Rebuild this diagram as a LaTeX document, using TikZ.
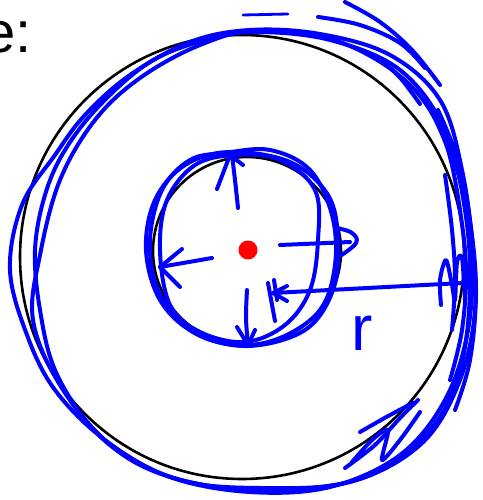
\documentclass[tikz,border=0pt]{standalone}
\usepackage{fontspec}
\setmainfont{Liberation Sans}
\definecolor{ink}{RGB}{0,0,255}
\definecolor{dotred}{RGB}{255,0,0}
\begin{document}
\begin{tikzpicture}[x=1pt,y=-1pt,
  blackline/.style={draw=black, line width=2.6pt},
  scribble/.style={draw=ink, line width=4pt, line cap=round, line join=round},
  thinscribble/.style={draw=ink, line width=2.8pt, line cap=round, line join=round},
  label/.style={inner sep=0pt, font=\fontsize{58pt}{60pt}\selectfont},
  handlabel/.style={inner sep=0pt, text=ink, font=\fontsize{64pt}{66pt}\selectfont}]
\useasboundingbox (0,0) rectangle (482,500);

% title fragment
\node[label, anchor=base east] (title) at (32,53) {e:};

% black circles
\draw[blackline] (242,257) circle[radius=222pt];
\draw[blackline] (247,251) circle[radius=94pt];

% outer blue loops
\draw[scribble] plot[smooth cycle, tension=0.6] coordinates {(250,30) (320,34) (390,55) (440,100) (462,170) (472,250) (468,330) (445,400) (400,455) (330,487) (250,492) (170,477) (105,440) (55,390) (27,335) (10,270) (22,205) (55,155) (85,115) (130,75) (190,42)};
\draw[scribble] plot[smooth cycle, tension=0.6] coordinates {(255,32) (330,40) (400,70) (445,130) (465,210) (470,290) (460,370) (430,430) (370,475) (290,490) (210,486) (140,465) (90,425) (55,370) (40,310) (35,250) (45,195) (65,150) (100,105) (150,62) (205,40)};
\draw[scribble] plot[smooth cycle, tension=0.6] coordinates {(260,30) (340,42) (410,85) (450,150) (470,230) (475,310) (458,385) (420,445) (350,482) (260,488) (180,480) (110,445) (60,385) (33,320) (40,255) (60,180) (95,120) (140,78) (200,45)};

% top strokes
\draw[thinscribble] (243,15) -- (288,14);
\draw[scribble] plot[smooth, tension=0.6] coordinates {(318,17) (360,25) (400,43) (425,68)};
\draw[scribble] plot[smooth, tension=0.6] coordinates {(345,2) (380,22) (412,50) (440,85)};
\draw[scribble] plot[smooth, tension=0.6] coordinates {(382,60) (402,80) (420,104)};

% right cluster
\draw[scribble] plot[smooth, tension=0.6] coordinates {(428,105) (448,150) (460,210) (466,270) (462,330) (450,380)};
\draw[scribble] plot[smooth, tension=0.6] coordinates {(438,110) (458,160) (470,220) (476,290) (470,360) (455,410)};
\draw[scribble] plot[smooth, tension=0.6] coordinates {(445,175) (452,230) (455,280) (452,330)};
\draw[scribble] plot[smooth, tension=0.5] coordinates {(441,305) (440,280) (446,260) (452,285) (455,300) (457,262) (462,258) (465,300)};

% bottom right scribble
\draw[scribble] plot[smooth, tension=0.6] coordinates {(360,432) (390,415) (413,403)};
\draw[scribble] plot[smooth, tension=0.5] coordinates {(345,468) (375,445) (400,418) (418,400)};
\draw[scribble] plot[smooth, tension=0.5] coordinates {(352,462) (372,440) (388,430) (382,460) (400,440) (420,412)};

% inner blue loops
\draw[scribble] plot[smooth cycle, tension=0.6] coordinates {(230,152) (290,162) (328,195) (338,240) (333,290) (305,330) (248,346) (195,333) (160,300) (146,250) (155,200) (185,165)};
\draw[scribble] plot[smooth cycle, tension=0.6] coordinates {(235,155) (280,160) (315,190) (318,240) (310,290) (285,325) (245,342) (200,332) (170,305) (160,250) (167,200) (195,165)};
\draw[scribble] plot[smooth cycle, tension=0.6] coordinates {(225,153) (270,150) (310,170) (332,215) (335,265) (320,310) (280,338) (235,345) (190,330) (158,290) (150,240) (162,190) (190,160)};

% up arrow
\draw[scribble] plot[smooth, tension=0.6] coordinates {(238,208) (235,180) (232,155)};
\draw[scribble] (217,189) -- (230,155) -- (243,165);
% left arrow
\draw[scribble] (212,258) -- (160,267);
\draw[scribble] (182,249) -- (160,267) -- (180,287);
% right arrow with hook
\draw[scribble] (280,245) -- (350,242);
\draw[scribble] plot[smooth, tension=0.7] coordinates {(337,228) (352,233) (356,243) (340,256)};
% down arrow
\draw[scribble] plot[smooth, tension=0.6] coordinates {(247,290) (246,318) (248,345)};
\draw[scribble] (237,327) -- (248,345) -- (255,330);

% radius arrow
\coordinate (rtip) at (273,293);
\coordinate (rend) at (462,283);
\draw[scribble] (rtip) -- (rend);
\draw[scribble] (287,286) -- (rtip) -- (287,301);
\draw[scribble] (268,283) -- (275,321);
\draw[scribble] (274,280) -- (277,300);

% hand-written label
\node[handlabel, anchor=base west] (rlabel) at (351,350) {r};

% centre dot
\fill[dotred] (248,250) circle[radius=9.5pt];
\end{tikzpicture}
\end{document}
